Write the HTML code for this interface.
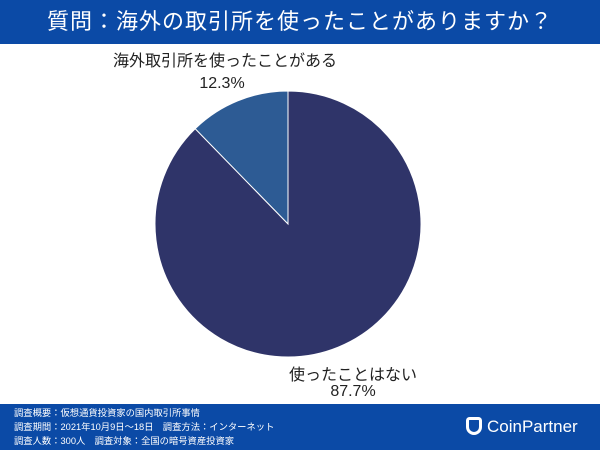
<!DOCTYPE html>
<html><head><meta charset="utf-8"><style>
*{margin:0;padding:0;box-sizing:border-box}
body{width:600px;height:450px;overflow:hidden;background:#fff;position:relative;font-family:"Liberation Sans","Noto Sans CJK JP",sans-serif}
#hdr{position:absolute;left:0;top:0;width:600px;height:44px;background:#0b4aa6;color:#fff;font-size:22px;text-align:center;line-height:44px;letter-spacing:1px}
#ftr{position:absolute;left:0;top:404px;width:600px;height:46px;background:#0b4aa6;color:#fff}
.fl{position:absolute;left:14px;font-size:9.3px;line-height:13px;white-space:nowrap}
.lbl{position:absolute;font-size:16px;color:#222;text-align:center;white-space:nowrap}
#logo{position:absolute;left:466px;top:10px;color:#fff;font-size:17px;line-height:26px;white-space:nowrap}
#logo .ic{display:inline-block;width:16px;height:18px;border:3px solid #fff;border-radius:4px 4px 9px 9px;vertical-align:-3px;margin-right:5px}
</style></head><body>
<div id="hdr">質問：海外の取引所を使ったことがありますか？</div>
<svg id="pie" width="600" height="450" style="position:absolute;left:0;top:0"></svg>
<div class="lbl" style="left:98px;top:47px;width:254px">海外取引所を使ったことがある</div>
<div class="lbl" style="left:182px;top:75px;width:80px">12.3%</div>
<div class="lbl" style="left:283px;top:361px;width:140px">使ったことはない</div>
<div class="lbl" style="left:313px;top:383px;width:80px">87.7%</div>
<div id="ftr">
<div class="fl" style="top:3px">調査概要：仮想通貨投資家の国内取引所事情</div>
<div class="fl" style="top:17px">調査期間：2021年10月9日〜18日　調査方法：インターネット</div>
<div class="fl" style="top:31px">調査人数：300人　調査対象：全国の暗号資産投資家</div>
<div id="logo"><span class="ic"></span>CoinPartner</div>
</div>
<script>
const categories=["海外取引所を使ったことがある","使ったことはない"];
const values=[12.3,87.7];
const colors=["#2d5b94","#2f3469"];
const cx=288,cy=224,r=133;
const svg=document.getElementById('pie');
const total=values.reduce((a,b)=>a+b,0);
let start=0;
const pt=a=>[cx+r*Math.sin(a),cy-r*Math.cos(a)];
values.forEach((v,i)=>{
  const ang=v/total*2*Math.PI;
  const a0=-start, a1=-(start+ang);
  const p0=pt(a0),p1=pt(a1);
  const large=ang>Math.PI?1:0;
  const p=document.createElementNS('http://www.w3.org/2000/svg','path');
  p.setAttribute('d',`M${cx},${cy}L${p0[0]},${p0[1]}A${r},${r} 0 ${large} 0 ${p1[0]},${p1[1]}Z`);
  p.setAttribute('fill',colors[i]);
  p.setAttribute('stroke','#fff');
  p.setAttribute('stroke-width','1');
  
  
  svg.appendChild(p);
  start+=ang;
});
</script>
</body></html>
